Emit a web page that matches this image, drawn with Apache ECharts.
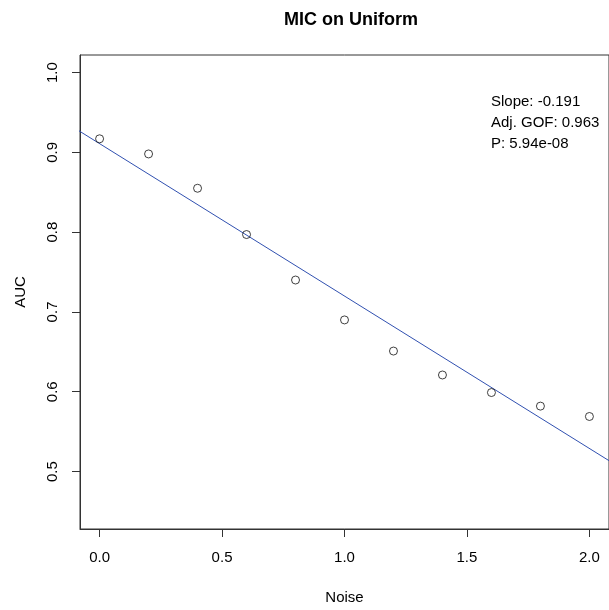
<!DOCTYPE html>
<html>
<head>
<meta charset="utf-8">
<script src="https://cdn.jsdelivr.net/npm/echarts@6/dist/echarts.min.js"></script>
<style>
html,body{margin:0;padding:0;background:#fff;}
#chart{width:609px;height:610px;}
</style>
</head>
<body>
<div id="chart"></div>
<script>
var noise = [0.0, 0.2, 0.4, 0.6, 0.8, 1.0, 1.2, 1.4, 1.6, 1.8, 2.0];
var auc = [0.917, 0.898, 0.855, 0.797, 0.740, 0.690, 0.651, 0.621, 0.599, 0.582, 0.569];
var xTicks = [0.0, 0.5, 1.0, 1.5, 2.0];
var yTicks = [0.5, 0.6, 0.7, 0.8, 0.9, 1.0];
var statsLines = ['Slope: -0.191', 'Adj. GOF: 0.963', 'P: 5.94e-08'];
var fitSlope = -0.191;

var meanX = noise.reduce(function(a,b){return a+b;},0)/noise.length;
var meanY = auc.reduce(function(a,b){return a+b;},0)/auc.length;
var fitIntercept = meanY - fitSlope*meanX;
var fitX = [-0.2, 2.3];
var fitData = fitX.map(function(x){return [x, fitIntercept + fitSlope*x];});

var FONT = "'Liberation Sans', Arial, Helvetica, sans-serif";
var chart = echarts.init(document.getElementById('chart'), null, {renderer:'canvas'});
chart.setOption({
  backgroundColor: '#ffffff',
  animation: false,
  title: {
    text: 'MIC on Uniform',
    left: 346, top: 6, textAlign: 'center',
    textStyle: {fontFamily: FONT, fontWeight: 'bold', fontSize: 18, color: '#000'}
  },
  grid: {
    left: 80, top: 55, right: -3, bottom: 76,
    show: true, borderColor: '#333', borderWidth: 1, backgroundColor: 'transparent'
  },
  xAxis: {
    type: 'value', min: -0.08, max: 2.08,
    name: 'Noise', nameLocation: 'middle', nameGap: 61,
    nameTextStyle: {fontFamily: FONT, fontSize: 15, color: '#000'},
    axisLine: {show: true, onZero: false, lineStyle: {color: '#333', width: 1}},
    splitLine: {show: false},
    axisTick: {show: true, inside: false, length: 8, lineStyle: {color: '#333'}, customValues: xTicks},
    axisLabel: {fontFamily: FONT, fontSize: 15, color: '#000', margin: 21,
      customValues: xTicks, formatter: function(v){return v.toFixed(1);}}
  },
  yAxis: {
    type: 'value', min: 0.428, max: 1.022,
    name: 'AUC', nameLocation: 'middle', nameGap: 52, nameRotate: 90,
    nameTextStyle: {fontFamily: FONT, fontSize: 15, color: '#000'},
    axisLine: {show: true, onZero: false, lineStyle: {color: '#333', width: 1}},
    splitLine: {show: false},
    axisTick: {show: true, inside: false, length: 8, lineStyle: {color: '#333'}, customValues: yTicks},
    axisLabel: {fontFamily: FONT, fontSize: 15, color: '#000', margin: 20, rotate: 90,
      customValues: yTicks, formatter: function(v){return v.toFixed(1);}}
  },
  graphic: [{
    type: 'text', left: 491, top: 91,
    style: {text: statsLines.join('\n'), fontFamily: FONT, fontSize: 15, fill: '#000', lineHeight: 21}
  }],
  series: [{
    type: 'line', data: fitData, showSymbol: false, symbol: 'none',
    lineStyle: {color: '#3050b0', width: 1}, clip: true, z: 2
  }, {
    type: 'scatter', data: noise.map(function(x,i){return [x, auc[i]];}),
    symbol: 'circle', symbolSize: 8,
    itemStyle: {color: 'rgba(255,255,255,0)', borderColor: '#111', borderWidth: 1}, z: 3
  }]
});
</script>
</body>
</html>
